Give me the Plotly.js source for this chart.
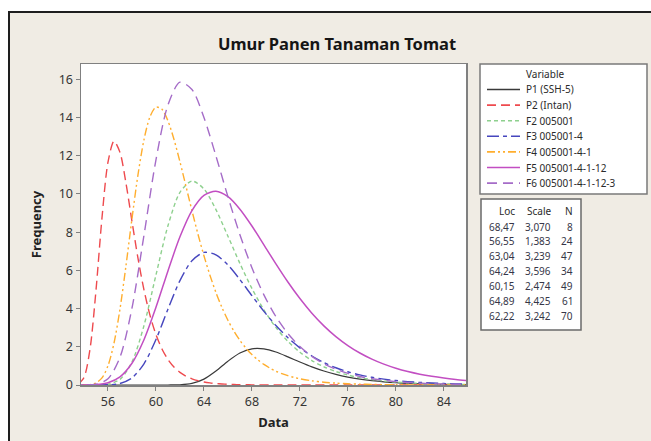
<!DOCTYPE html>
<html><head><meta charset="utf-8">
<script src="https://cdn.plot.ly/plotly-3.0.1.min.js"></script>
<style>
html,body{margin:0;padding:0;background:#ffffff;width:651px;height:441px;overflow:hidden;}
#frame{position:absolute;left:8px;top:11px;width:643px;height:430px;border-left:2px solid #1e1e1e;border-top:2px solid #1e1e1e;background:#F0ECE4;}
#chart{width:641px;height:428px;}
</style></head><body>
<div id="frame"><div id="chart"></div></div>
<script>
// x positions (Data)
const xGrid = [53,54,55,56,57,58,59,60,61,62,63,64,65,66,67,68,69,70,71,72,73,74,75,76,77,78,79,80,81,82,83,84,85,86];
const xFine = [53.5,54,54.5,55,55.5,56,56.5,57,57.5,58,58.5,59,59.5,60,60.5,61,61.5,62,62.5,63,63.5,64,64.5,65,65.5,66,66.5,67,67.5,68,68.5,69,69.5,70,70.5,71,71.5,72,73,74,75,76,77,78,79,80,81,82,83,84,85,86];

// Frequency values
const p1 = [0,0,0,0,0,0,0,0,0.001,0.011,0.081,0.307,0.730,1.246,1.675,1.894,1.890,1.725,1.474,1.202,0.948,0.730,0.552,0.412,0.305,0.224,0.163,0.119,0.087,0.063,0.046,0.033,0.024,0.017];
const p2 = [0.036,0.395,1.871,4.956,8.753,11.662,12.760,12.175,10.558,8.569,6.639,4.980,3.655,2.638,1.884,1.335,0.942,0.662,0.464,0.324,0.226,0.158,0.110,0.077,0.054,0.037,0.026,0.018,0.013,0.009,0.006,0.004,0.003,0.002,0.001,0.001,0.001,0.0005,0,0,0,0,0,0,0,0,0,0,0,0,0,0];
const f2 = [0,0,0.002,0.039,0.295,1.202,3.108,5.755,8.335,10.08,10.675,10.26,9.18,7.79,6.36,5.055,3.932,3.012,2.282,1.715,1.280,0.951,0.705,0.521,0.385,0.284,0.209,0.154,0.113,0.083,0.061,0.045,0.033,0.024];
const f3 = [0,0,0.0005,0.0095,0.079,0.370,1.109,2.381,3.969,5.465,6.507,6.940,6.814,6.280,5.518,4.676,3.856,3.114,2.477,1.946,1.516,1.173,0.902,0.692,0.529,0.403,0.307,0.233,0.177,0.135,0.102,0.077,0.059,0.044];
const f4 = [0.0002,0.003,0.021,0.105,0.371,1.005,2.185,3.973,6.243,8.703,11.000,12.834,14.035,14.545,14.435,13.825,12.858,11.682,10.406,9.127,7.899,6.766,5.748,4.845,4.060,3.390,2.817,2.334,1.929,1.590,1.310,1.077,0.884,0.725,0.595,0.487,0.399,0.327,0.219,0.146,0.098,0.065,0.044,0.029,0.020,0.013,0.009,0.006,0.004,0.003,0.002,0.001];
const f5 = [0.0002,0.0026,0.0225,0.119,0.428,1.137,2.369,4.065,5.972,7.754,9.127,9.926,10.140,9.854,9.200,8.321,7.337,6.339,5.390,4.524,3.758,3.096,2.535,2.065,1.674,1.353,1.091,0.878,0.705,0.565,0.453,0.362,0.290,0.232];
const f6 = [0,0.0018,0.038,0.324,1.451,4.021,7.838,11.785,14.657,15.849,15.468,14.000,11.988,9.854,7.864,6.136,4.716,3.579,2.692,2.013,1.498,1.111,0.822,0.607,0.447,0.330,0.243,0.178,0.131,0.097,0.071,0.052,0.038,0.028];

const seriesNames = ["P1 (SSH-5)","P2 (Intan)","F2 005001","F3 005001-4","F4 005001-4-1","F5 005001-4-1-12","F6 005001-4-1-12-3"];
const locValues = [68.47,56.55,63.04,64.24,60.15,64.89,62.22];
const scaleValues = [3.070,1.383,3.239,3.596,2.474,4.425,3.242];
const nValues = [8,24,47,34,49,61,70];
const xTickVals = [56,60,64,68,72,76,80,84];
const yTickVals = [0,2,4,6,8,10,12,14,16];

const seriesX = [xGrid,xFine,xGrid,xGrid,xFine,xGrid,xGrid];
const seriesY = [p1,p2,f2,f3,f4,f5,f6];
const colors = ["#3a3a3a","#EE4A4E","#8ED08E","#4646BE","#FFAE2E","#C24EC2","#A56CC8"];
const dashes = ["solid","9px,5px","4px,3px","12px,4px,4px,4px","8px,3px,2px,3px,2px,3px","solid","10px,6px"];
const widths = [1.2,1.4,1.4,1.4,1.4,1.5,1.4];

const FONT = "Noto Sans, DejaVu Sans, sans-serif";
const traces = seriesY.map((y,i)=>({
  x: seriesX[i], y: y, name: seriesNames[i], type:'scatter', mode:'lines',
  line:{color:colors[i], dash:dashes[i], width:widths[i], shape:'spline', smoothing:0.8},
  hoverinfo:'skip', showlegend:false
}));

// page-pixel -> paper coordinate helpers (plot area: x 81..466, y 64..385 on page)
const PL=81, PR=466, PT=64, PB=385;
const px = X => (X-PL)/(PR-PL);
const py = Y => (PB-Y)/(PB-PT);

const shapes = [];
const annotations = [];
// legend box
shapes.push({type:'rect',xref:'paper',yref:'paper',x0:px(480),x1:px(647),y0:py(194),y1:py(64),fillcolor:'#ffffff',line:{color:'#7a7a7a',width:1.5},layer:'above'});
annotations.push({xref:'paper',yref:'paper',x:px(545),y:py(74),text:'Variable',showarrow:false,xanchor:'center',yanchor:'middle',font:{family:FONT,size:10,color:'#2a2a2a'}});
seriesNames.forEach((nm,i)=>{
  const yy = 89.5 + 15.6*i;
  shapes.push({type:'line',xref:'paper',yref:'paper',x0:px(487),x1:px(520),y0:py(yy),y1:py(yy),line:{color:colors[i],dash:dashes[i],width:widths[i]+0.2},layer:'above'});
  annotations.push({xref:'paper',yref:'paper',x:px(524),y:py(yy),text:nm,showarrow:false,xanchor:'left',yanchor:'middle',font:{family:FONT,size:10,color:'#2a2a2a'}});
});
// stats table
shapes.push({type:'rect',xref:'paper',yref:'paper',x0:px(481),x1:px(581),y0:py(330),y1:py(199),fillcolor:'#ffffff',line:{color:'#6a6a6a',width:1.5},layer:'above'});
const colRight = [517,553,575];
const hdr = ['Loc','Scale','N'];
hdr.forEach((h,j)=>annotations.push({xref:'paper',yref:'paper',x:px(colRight[j]),y:py(211),text:h,showarrow:false,xanchor:'right',yanchor:'middle',font:{family:FONT,size:10,color:'#2a2a2a'}}));
const fmt = (v,d)=>v.toFixed(d).replace('.',',');
locValues.forEach((v,i)=>{
  const yy = 226.5 + 14.9*i;
  const cells = [fmt(v,2), fmt(scaleValues[i],3), String(nValues[i])];
  cells.forEach((c,j)=>annotations.push({xref:'paper',yref:'paper',x:px(colRight[j]),y:py(yy),text:c,showarrow:false,xanchor:'right',yanchor:'middle',font:{family:FONT,size:10,color:'#363648'}}));
});

const axisCommon = {
  showline:true, mirror:true, linecolor:'#808080', linewidth:1.5,
  ticks:'outside', ticklen:4, tickwidth:1, tickcolor:'#808080',
  showgrid:false, zeroline:false, fixedrange:true,
  tickfont:{family:FONT,size:12.5,color:'#353535'}
};
const layout = {
  width:641, height:428,
  margin:{l:71,r:185,t:51,b:56,pad:0},
  paper_bgcolor:'#F0ECE4', plot_bgcolor:'#ffffff',
  title:{text:'Umur Panen Tanaman Tomat', xref:'container', yref:'container', x:(337-10)/641, xanchor:'center', y:1-(44-13)/428, yanchor:'middle',
    font:{family:FONT,size:16.5,weight:'bold',color:'#151515'}},
  xaxis:Object.assign({}, axisCommon, {range:[53.75,85.85], tickvals:xTickVals, ticktext:xTickVals.map(String),
    title:{text:'Data', font:{family:FONT,size:13,weight:'bold',color:'#222'}, standoff:9}}),
  yaxis:Object.assign({}, axisCommon, {range:[0,16.8], tickvals:yTickVals, ticktext:yTickVals.map(String),
    title:{text:'Frequency', font:{family:FONT,size:13,weight:'bold',color:'#222'}, standoff:14}}),
  shapes:shapes, annotations:annotations, showlegend:false
};
Plotly.newPlot('chart', traces, layout, {staticPlot:true, displayModeBar:false});
</script>
</body></html>
